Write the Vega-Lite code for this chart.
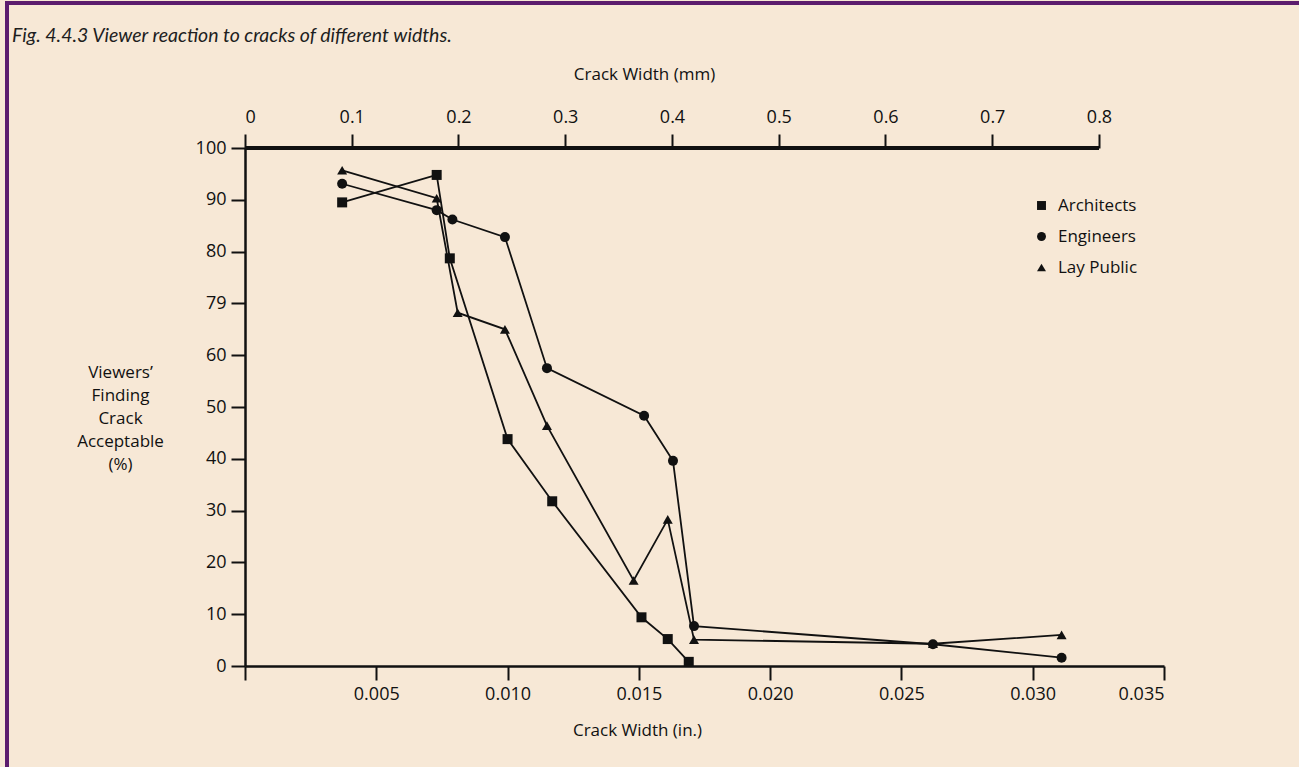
{
  "$schema": "https://vega.github.io/schema/vega-lite/v6.json",
  "width": 919,
  "height": 518,
  "autosize": "none",
  "padding": {"left": 245, "top": 148, "right": 135, "bottom": 101},
  "background": "#f7e8d6",
  "title": {
    "text": "Fig. 4.4.3 Viewer reaction to cracks of different widths.",
    "anchor": "start",
    "frame": "group",
    "dx": -233,
    "dy": 49,
    "font": "Lato",
    "fontStyle": "italic",
    "fontWeight": "normal",
    "fontSize": 19.5,
    "color": "#1e1e1e"
  },
  "config": {
    "view": {"stroke": null},
    "axis": {
      "grid": false,
      "domainColor": "#111111",
      "domainWidth": 2.5,
      "tickColor": "#111111",
      "tickWidth": 2,
      "tickSize": 14,
      "labelColor": "#111111",
      "labelFont": "Open Sans",
      "labelFontSize": 18,
      "titleFont": "Open Sans",
      "titleFontSize": 17,
      "titleFontWeight": "normal",
      "titleColor": "#111111"
    },
    "legend": {
      "labelFont": "Open Sans",
      "labelFontSize": 17,
      "labelColor": "#111111"
    }
  },
  "data": {
    "values": [
      {"group": "Architects", "width_in": 0.0037, "pct": 89.5},
      {"group": "Architects", "width_in": 0.0073, "pct": 94.8},
      {"group": "Architects", "width_in": 0.0078, "pct": 78.7},
      {"group": "Architects", "width_in": 0.0100, "pct": 43.8},
      {"group": "Architects", "width_in": 0.0117, "pct": 31.8},
      {"group": "Architects", "width_in": 0.0151, "pct": 9.4},
      {"group": "Architects", "width_in": 0.0161, "pct": 5.2},
      {"group": "Architects", "width_in": 0.0169, "pct": 0.8},
      {"group": "Engineers", "width_in": 0.0037, "pct": 93.1},
      {"group": "Engineers", "width_in": 0.0073, "pct": 88.0},
      {"group": "Engineers", "width_in": 0.0079, "pct": 86.2},
      {"group": "Engineers", "width_in": 0.0099, "pct": 82.8},
      {"group": "Engineers", "width_in": 0.0115, "pct": 57.5},
      {"group": "Engineers", "width_in": 0.0152, "pct": 48.3},
      {"group": "Engineers", "width_in": 0.0163, "pct": 39.6},
      {"group": "Engineers", "width_in": 0.0171, "pct": 7.7},
      {"group": "Engineers", "width_in": 0.0262, "pct": 4.2},
      {"group": "Engineers", "width_in": 0.0311, "pct": 1.6},
      {"group": "Lay Public", "width_in": 0.0037, "pct": 95.7},
      {"group": "Lay Public", "width_in": 0.0073, "pct": 90.3},
      {"group": "Lay Public", "width_in": 0.0081, "pct": 68.2},
      {"group": "Lay Public", "width_in": 0.0099, "pct": 65.0},
      {"group": "Lay Public", "width_in": 0.0115, "pct": 46.4},
      {"group": "Lay Public", "width_in": 0.0148, "pct": 16.5},
      {"group": "Lay Public", "width_in": 0.0161, "pct": 28.3},
      {"group": "Lay Public", "width_in": 0.0171, "pct": 5.1},
      {"group": "Lay Public", "width_in": 0.0262, "pct": 4.3},
      {"group": "Lay Public", "width_in": 0.0311, "pct": 6.0}
    ]
  },
  "resolve": {"scale": {"x": "independent"}, "axis": {"x": "independent"}},
  "layer": [
    {
      "mark": {"type": "rect", "filled": false, "stroke": "#5c1c6e", "strokeWidth": 3, "fill": null},
      "encoding": {
        "x": {"datum": -0.009064, "type": "quantitative", "scale": {"domain": [0, 0.035], "nice": false, "zero": false}, "axis": null},
        "x2": {"datum": 0.04094},
        "y": {"datum": 127.95, "type": "quantitative", "scale": {"domain": [0, 100], "nice": false}},
        "y2": {"datum": -23.9}
      }
    },
    {
      "mark": {"type": "line", "color": "#111111", "strokeWidth": 1.8},
      "encoding": {
        "x": {
          "field": "width_in", "type": "quantitative",
          "scale": {"domain": [0, 0.035], "nice": false, "zero": false},
          "axis": {
            "orient": "bottom",
            "values": [0, 0.005, 0.01, 0.015, 0.02, 0.025, 0.03, 0.035],
            "labelExpr": "datum.value == 0 ? '' : format(datum.value, '.3f')",
            "labelPadding": 5,
            "title": "Crack Width (in.)",
            "titleX": 392,
            "titleY": 64,
            "titleAlign": "center",
            "titleBaseline": "middle"
          }
        },
        "y": {
          "field": "pct", "type": "quantitative",
          "scale": {"domain": [0, 100], "nice": false},
          "axis": {
            "values": [0, 10, 20, 30, 40, 50, 60, 70, 80, 90, 100],
            "labelExpr": "datum.value == 70 ? '79' : datum.label",
            "labelPadding": 5,
            "title": ["Viewers’", "Finding", "Crack", "Acceptable", "(%)"],
            "titleAngle": 0,
            "titleAlign": "center",
            "titleBaseline": "middle",
            "titleX": -125,
            "titleY": 224,
            "titleLineHeight": 23,
            "titleFontSize": 17
          }
        },
        "detail": {"field": "group"}
      }
    },
    {
      "mark": {"type": "point", "filled": true, "color": "#111111", "size": 100, "opacity": 1},
      "encoding": {
        "x": {"field": "width_in", "type": "quantitative", "scale": {"domain": [0, 0.035], "nice": false, "zero": false}, "axis": null},
        "y": {"field": "pct", "type": "quantitative"},
        "shape": {
          "field": "group", "type": "nominal",
          "scale": {"domain": ["Architects", "Engineers", "Lay Public"], "range": ["square", "circle", "triangle-up"]},
          "legend": {
            "title": null,
            "orient": "none",
            "legendX": 788,
            "legendY": 49,
            "symbolSize": 80,
            "symbolFillColor": "#111111",
            "symbolStrokeColor": "#111111",
            "rowPadding": 13,
            "labelOffset": 8
          }
        }
      }
    },
    {
      "mark": {"type": "rule", "color": "#111111", "strokeWidth": 2.5},
      "encoding": {
        "x": {
          "datum": 0, "type": "quantitative",
          "scale": {"domain": [0, 0.8609], "nice": false, "zero": false},
          "axis": {
            "orient": "top",
            "domain": false,
            "values": [0, 0.1, 0.2, 0.3, 0.4, 0.5, 0.6, 0.7, 0.8],
            "format": ".1~f",
            "labelPadding": 8,
            "title": "Crack Width (mm)",
            "titleX": 399,
            "titleY": -74,
            "titleAlign": "center",
            "titleBaseline": "middle"
          }
        },
        "x2": {"datum": 0.8},
        "y": {"datum": 100, "type": "quantitative"}
      }
    }
  ]
}
